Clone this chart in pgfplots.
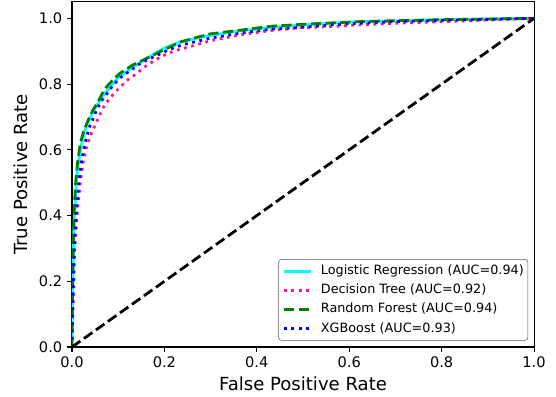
\documentclass[border=0pt]{standalone}
\usepackage{fontspec}
\setmainfont{DejaVu Sans}
\usepackage{pgfplots}
\pgfplotsset{compat=1.18}
\definecolor{lrc}{RGB}{0,255,255}
\definecolor{dtc}{RGB}{255,20,147}
\definecolor{rfc}{RGB}{0,128,0}
\definecolor{xgc}{RGB}{0,0,255}
\begin{document}
\begin{tikzpicture}
\begin{axis}[
  name=ax,
  scale only axis,
  width=332.6pt, height=248.4pt,
  xmin=0, xmax=1, ymin=0, ymax=1.05,
  xtick={0,0.2,0.4,0.6,0.8,1.0},
  ytick={0,0.2,0.4,0.6,0.8,1.0},
  xticklabels={0.0,0.2,0.4,0.6,0.8,1.0},
  yticklabels={0.0,0.2,0.4,0.6,0.8,1.0},
  xtick pos=bottom, ytick pos=left,
  tick align=outside,
  major tick length=3.5pt,
  every tick/.style={black, line width=0.8pt},
  axis line style={black, line width=0.8pt},
  tick label style={font=\fontsize{10.5}{12}\selectfont},
  /pgf/number format/assume math mode=true,
  label style={font=\fontsize{13}{15}\selectfont},
  xlabel={False Positive Rate},
  ylabel={True Positive Rate},
  xlabel style={yshift=0.5pt},
  ylabel shift=1pt,
  legend cell align=left,
  legend image code/.code={\draw[#1] (0pt,0pt) -- (19pt,0pt);},
  legend style={at={(1,0)}, anchor=south east, xshift=-4.3pt, yshift=4.6pt,
    draw=black!65, rounded corners=2pt, fill=white, fill opacity=0.8, text opacity=1,
    font=\fontsize{9.2}{10.5}\selectfont, row sep=4.9pt, column sep=6.5pt,
    inner xsep=2.9pt, inner ysep=4pt,
    nodes={inner sep=0pt, text height=6.9pt, text depth=2pt}},
]
\addplot[lrc, line width=2pt] coordinates {
(0,0) (0.002,0.2) (0.004,0.35) (0.008,0.47) (0.012,0.54) (0.018,0.6) (0.026,0.65)
(0.035,0.685) (0.045,0.715) (0.056,0.74) (0.07,0.77) (0.085,0.795) (0.1,0.82)
(0.13,0.85) (0.164,0.88) (0.2,0.91) (0.234,0.928) (0.27,0.94) (0.3,0.948)
(0.364,0.962) (0.43,0.972) (0.5,0.98) (0.56,0.985) (0.62,0.99) (0.7,0.992)
(0.8,0.996) (0.9,0.998) (1,1)};
\addlegendentry{Logistic Regression (AUC=0.94)}
\addplot[dtc, line width=2pt, dash pattern=on 2pt off 3.3pt] coordinates {
(0,0) (0.003,0.15) (0.006,0.3) (0.012,0.42) (0.018,0.5) (0.024,0.56) (0.032,0.61)
(0.042,0.65) (0.055,0.69) (0.07,0.735) (0.085,0.762) (0.1,0.785) (0.118,0.81)
(0.136,0.828) (0.16,0.855) (0.186,0.878) (0.21,0.895) (0.234,0.906) (0.27,0.92)
(0.3,0.932) (0.364,0.95) (0.43,0.963) (0.5,0.972) (0.56,0.975) (0.62,0.98)
(0.7,0.985) (0.8,0.99) (0.9,0.995) (1,1)};
\addlegendentry{Decision Tree (AUC=0.92)}
\addplot[rfc, line width=2pt, dash pattern=on 7.4pt off 3.2pt] coordinates {
(0,0) (0.001,0.1) (0.002,0.25) (0.004,0.4) (0.008,0.5) (0.012,0.56) (0.018,0.62)
(0.026,0.66) (0.035,0.69) (0.045,0.72) (0.056,0.745) (0.065,0.77) (0.075,0.792)
(0.09,0.815) (0.104,0.833) (0.13,0.857) (0.164,0.88) (0.2,0.905) (0.234,0.928)
(0.27,0.942) (0.3,0.953) (0.364,0.964) (0.43,0.976) (0.5,0.982) (0.56,0.986)
(0.62,0.99) (0.7,0.993) (0.8,0.996) (0.9,0.998) (1,1)};
\addlegendentry{Random Forest (AUC=0.94)}
\addplot[xgc, line width=2pt, dash pattern=on 2pt off 3.3pt] coordinates {
(0,0) (0.002,0.15) (0.005,0.3) (0.01,0.42) (0.015,0.5) (0.02,0.56) (0.028,0.62)
(0.038,0.67) (0.05,0.71) (0.062,0.745) (0.075,0.77) (0.088,0.795) (0.105,0.82)
(0.125,0.84) (0.15,0.865) (0.18,0.885) (0.21,0.905) (0.24,0.92) (0.3,0.94)
(0.364,0.955) (0.43,0.967) (0.5,0.973) (0.56,0.98) (0.62,0.985) (0.7,0.99)
(0.8,0.994) (0.9,0.997) (1,1)};
\addlegendentry{XGBoost (AUC=0.93)}
\addplot[black, line width=2pt, dash pattern=on 7.4pt off 3.2pt, forget plot] coordinates {(0,0) (1,1)};
\end{axis}
\path ([shift={(-51.8pt,-35.3pt)}]ax.south west) rectangle ([shift={(15.8pt,1.4pt)}]ax.north east);
\end{tikzpicture}
\end{document}
